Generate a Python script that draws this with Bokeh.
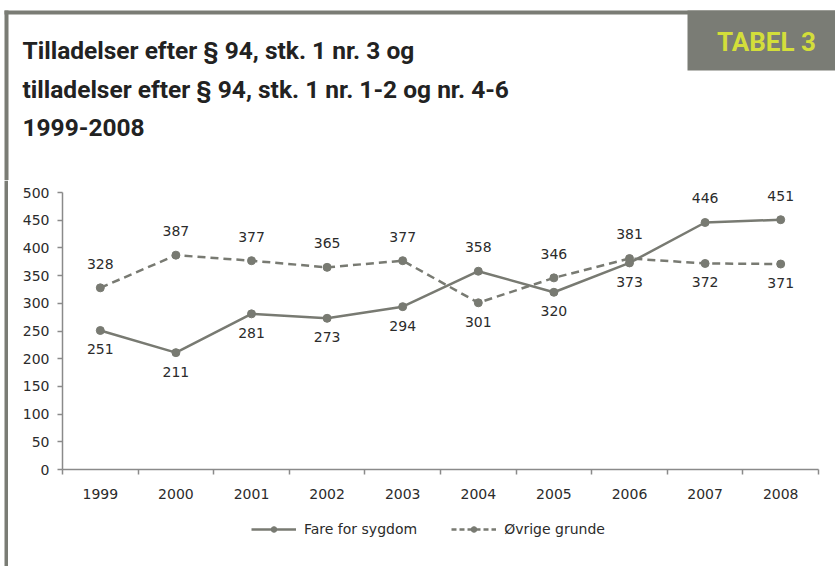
from bokeh.plotting import figure
from bokeh.layouts import column, row
from bokeh.models import (ColumnDataSource, Range1d, FixedTicker, LabelSet, Legend, LegendItem)
from bokeh.core.properties import value
from bokeh.embed import file_html
from bokeh.resources import INLINE

years = ["1999", "2000", "2001", "2002", "2003", "2004", "2005", "2006", "2007", "2008"]
fare = [251, 211, 281, 273, 294, 358, 320, 373, 446, 451]
ovrige = [328, 387, 377, 365, 377, 301, 346, 381, 372, 371]
y_ticks = [0, 50, 100, 150, 200, 250, 300, 350, 400, 450, 500]
title_lines = ["Tilladelser efter § 94, stk. 1 nr. 3 og",
               "tilladelser efter § 94, stk. 1 nr. 1-2 og nr. 4-6",
               "1999-2008"]
series_names = ["Fare for sygdom", "Øvrige grunde"]
badge = "TABEL 3"

W, H = 835, 566
HEAD_H = 180
STRIP_W = 8
MAIN_H = 330
LEG_H = H - HEAD_H - MAIN_H
GREY = "#7a7c75"
LINE = "#787a72"
TXT = "#2b2b2b"
FONT = "DejaVu Sans"


def blank(w, h, flip=True):
    f = figure(width=w, height=h, output_backend="svg", toolbar_location=None,
               x_range=Range1d(0, w), y_range=Range1d(h, 0) if flip else Range1d(0, h),
               x_axis_location=None, y_axis_location=None, min_border=0)
    f.outline_line_color = None
    f.grid.visible = False
    f.border_fill_color = "white"
    f.background_fill_color = "white"
    return f


# ---------- header ----------
head = blank(W, HEAD_H)
head.quad(left=[4, 4, 687], right=[W, 8, W], top=[10, 10, 10], bottom=[14, HEAD_H, 70],
          fill_color=GREY, line_color=None)
head.text(x=[766], y=[41], text=[badge], text_font=value("Roboto"), text_font_size="26px",
          text_font_style="bold", text_color="#d3de3a", text_align="center",
          text_baseline="middle")
head.text(x=[22] * 3, y=[50, 88.5, 127], text=title_lines, text_font=value("Roboto"),
          text_font_size="24.5px", text_font_style="bold", text_color="#222222",
          text_align="left", text_baseline="middle")

# ---------- left strip ----------
strip = blank(STRIP_W, H - HEAD_H)
strip.quad(left=[4], right=[8], top=[0], bottom=[H - HEAD_H], fill_color=GREY, line_color=None)

# ---------- main chart ----------
xs = [i + 0.5 for i in range(len(years))]
p = figure(width=W - STRIP_W, height=MAIN_H, output_backend="svg", toolbar_location=None,
           x_range=Range1d(0, len(years)), y_range=Range1d(0, 520),
           min_border_left=54, min_border_right=17, min_border_top=1, min_border_bottom=41)
p.outline_line_color = None
p.grid.visible = False
p.background_fill_color = "white"
p.border_fill_color = "white"

p.xaxis.ticker = FixedTicker(ticks=xs, minor_ticks=list(range(len(years) + 1)))
p.xaxis.major_label_overrides = {x: y for x, y in zip(xs, years)}
p.xaxis.major_tick_out = 0
p.xaxis.major_tick_in = 0
p.xaxis.minor_tick_out = 5
p.xaxis.minor_tick_in = 0
p.yaxis.ticker = FixedTicker(ticks=y_ticks)
p.yaxis.bounds = (0, 500)
p.yaxis.minor_tick_line_color = None
p.yaxis.major_tick_out = 5
p.yaxis.major_tick_in = 0
for ax in (p.xaxis, p.yaxis):
    ax.axis_line_color = "#8a8a8a"
    ax.axis_line_width = 1.5
    ax.major_tick_line_color = "#8a8a8a"
    ax.minor_tick_line_color = "#8a8a8a"
    ax.major_tick_line_width = 1.5
    ax.minor_tick_line_width = 1.5
    ax.major_label_text_font = FONT
    ax.major_label_text_font_size = "14px"
    ax.major_label_text_color = TXT
p.yaxis.major_label_standoff = 8
p.xaxis.major_label_standoff = 14

src_f = ColumnDataSource(dict(x=xs, y=fare))
src_o = ColumnDataSource(dict(x=xs, y=ovrige))
p.line("x", "y", source=src_f, line_color=LINE, line_width=2.5)
p.scatter("x", "y", source=src_f, size=8, fill_color=LINE, line_color=LINE)
p.line("x", "y", source=src_o, line_color=LINE, line_width=2.5, line_dash="8 5")
p.scatter("x", "y", source=src_o, size=8, fill_color=LINE, line_color=LINE)

# data labels: above the point when the series is the higher one that year
for own, other in ((fare, ovrige), (ovrige, fare)):
    up = dict(x=[], y=[], t=[])
    dn = dict(x=[], y=[], t=[])
    for x, a, b in zip(xs, own, other):
        d = up if a > b else dn
        d["x"].append(x); d["y"].append(a); d["t"].append(str(a))
    for d, off in ((up, 24), (dn, -19)):
        p.add_layout(LabelSet(x="x", y="y", text="t", source=ColumnDataSource(d),
                              text_align="center", text_baseline="middle", y_offset=off,
                              text_font_size=value("14px"), text_color=value(TXT),
                              text_font=value(FONT)))

# ---------- legend (sample glyphs kept outside the visible area) ----------
leg = blank(W - STRIP_W, LEG_H, flip=False)
hide_x, hide_y = [-30, -20], [-30, -20]
r1 = leg.line(hide_x, hide_y, line_color=LINE, line_width=2.5)
m1 = leg.scatter(hide_x, hide_y, size=8, fill_color=LINE, line_color=LINE)
r2 = leg.line(hide_x, hide_y, line_color=LINE, line_width=2.5, line_dash="5 3")
m2 = leg.scatter(hide_x, hide_y, size=8, fill_color=LINE, line_color=LINE)
legend = Legend(items=[LegendItem(label=series_names[0], renderers=[r1, m1]),
                       LegendItem(label=series_names[1], renderers=[r2, m2])],
                orientation="horizontal", location=(189, 29), padding=0, margin=0,
                spacing=34, label_standoff=8, glyph_width=45, glyph_height=14,
                border_line_color=None, background_fill_alpha=0,
                label_text_font=FONT, label_text_font_size="14px", label_text_color=TXT)
leg.add_layout(legend)

layout = column(head, row(strip, column(p, leg, spacing=0), spacing=0), spacing=0)
open("out.html", "w").write(file_html(layout, INLINE))
